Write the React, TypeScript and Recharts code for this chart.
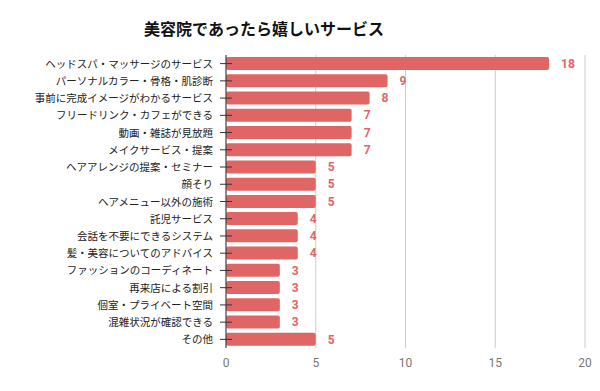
import React from 'react';
import { BarChart, Bar, XAxis, YAxis, CartesianGrid, LabelList } from 'recharts';

const categories = [
  'ヘッドスパ・マッサージのサービス',
  'パーソナルカラー・骨格・肌診断',
  '事前に完成イメージがわかるサービス',
  'フリードリンク・カフェができる',
  '動画・雑誌が見放題',
  'メイクサービス・提案',
  'ヘアアレンジの提案・セミナー',
  '顔そり',
  'ヘアメニュー以外の施術',
  '託児サービス',
  '会話を不要にできるシステム',
  '髪・美容についてのアドバイス',
  'ファッションのコーディネート',
  '再来店による割引',
  '個室・プライベート空間',
  '混雑状況が確認できる',
  'その他',
];

const counts = [18, 9, 8, 7, 7, 7, 5, 5, 5, 4, 4, 4, 3, 3, 3, 3, 5];

const xTicks = [0, 5, 10, 15, 20];

const data = categories.map((name, i) => ({ name, count: counts[i] }));

const font = '"Noto Sans CJK JP", "Noto Sans", sans-serif';
const red = '#e06666';

const CategoryTick = (props: any) => {
  const { x, y, payload } = props;
  return (
    <g>
      <line x1={x + 7} x2={x + 19} y1={y} y2={y} stroke="#333" strokeWidth={1} />
      <text
        x={x}
        y={y}
        dy={4}
        textAnchor="end"
        fontSize={10.5}
        fontFamily={font}
        fill="#222"
      >
        {payload.value}
      </text>
    </g>
  );
};

export default function App() {
  return (
    <div
      style={{
        position: 'absolute',
        left: 0,
        top: 0,
        width: 600,
        height: 391,
        background: '#fff',
      }}
    >
      <div
        style={{
          position: 'absolute',
          left: 0,
          width: 528,
          top: 16,
          textAlign: 'center',
          fontFamily: font,
          fontWeight: 700,
          fontSize: 16,
          color: '#111',
        }}
      >
        美容院であったら嬉しいサービス
      </div>
      <BarChart
        width={600}
        height={391}
        data={data}
        layout="vertical"
        margin={{ top: 55, right: 15, left: 0, bottom: 13 }}
        barSize={13}
      >
        <CartesianGrid horizontal={false} stroke="#cccccc" />
        <XAxis
          type="number"
          domain={[0, 20]}
          ticks={xTicks}
          axisLine={false}
          tickLine={false}
          tickSize={0}
          tickMargin={10}
          height={30}
          tick={{ fontSize: 12, fill: '#777', fontFamily: 'Roboto, sans-serif' }}
        />
        <YAxis
          type="category"
          dataKey="name"
          width={226}
          axisLine={{ stroke: '#333' }}
          tickLine={false}
          tickSize={0}
          tickMargin={13}
          interval={0}
          tick={<CategoryTick />}
        />
        <Bar dataKey="count" fill={red} radius={[2, 2, 2, 2]} isAnimationActive={false}>
          <LabelList
            dataKey="count"
            position="right"
            offset={12}
            fill={red}
            fontSize={12}
            fontWeight={700}
            fontFamily="Roboto, sans-serif"
          />
        </Bar>
      </BarChart>
    </div>
  );
}
